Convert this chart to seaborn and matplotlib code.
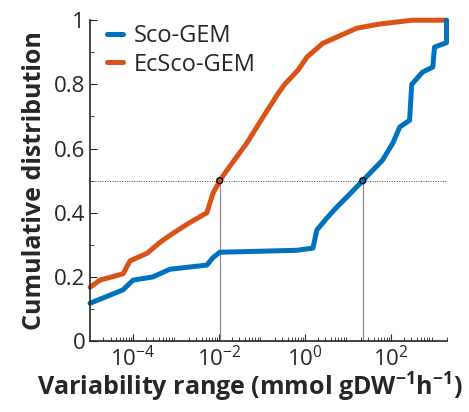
import numpy as np
import pandas as pd
import matplotlib
matplotlib.use("Agg")
import matplotlib.pyplot as plt
import seaborn as sns
from matplotlib.ticker import LogLocator, NullFormatter

# Sco-GEM: log10(variability range), cumulative fraction
sco_log_x = [-5.0, -4.23, -4.0, -3.54, -3.14, -2.28, -2.14, -1.98, -0.19, 0.19,
             0.28, 0.51, 0.74, 0.98, 1.35, 1.81, 2.05, 2.21, 2.44, 2.49,
             2.74, 2.98, 3.02, 3.30, 3.30]
sco_cdf = [0.118, 0.16, 0.19, 0.20, 0.224, 0.237, 0.26, 0.277, 0.283, 0.29,
           0.346, 0.383, 0.417, 0.449, 0.5, 0.564, 0.617, 0.667, 0.688, 0.80,
           0.838, 0.854, 0.916, 0.93, 1.0]

# EcSco-GEM
ecsco_log_x = [-5.0, -4.77, -4.23, -4.07, -3.67, -3.37, -3.07, -2.67, -2.28, -2.14,
               -1.98, -1.81, -1.35, -1.02, -0.63, -0.47, -0.16, 0.05, 0.42, 1.21,
               1.74, 2.51, 3.28]
ecsco_cdf = [0.168, 0.19, 0.21, 0.25, 0.274, 0.308, 0.336, 0.37, 0.40, 0.46,
             0.5, 0.533, 0.617, 0.688, 0.77, 0.80, 0.844, 0.885, 0.928, 0.975,
             0.988, 1.0, 1.0]

# medians (x where cdf = 0.5)
median_labels = ["EcSco-GEM", "Sco-GEM"]
median_x = [10 ** -1.98, 10 ** 1.35]

colors = {"Sco-GEM": "#0072BD", "EcSco-GEM": "#D95319"}

df = pd.concat([
    pd.DataFrame({"x": 10 ** np.array(ecsco_log_x), "y": ecsco_cdf, "model": "EcSco-GEM"}),
    pd.DataFrame({"x": 10 ** np.array(sco_log_x), "y": sco_cdf, "model": "Sco-GEM"}),
], ignore_index=True)

sns.set_style("ticks")
plt.rcParams["font.family"] = ["Open Sans", "DejaVu Sans"]
plt.rcParams["mathtext.default"] = "regular"

fig = plt.figure(figsize=(4.69, 4.12), dpi=100)
ax = fig.add_axes([0.192, 0.172, 0.761, 0.779])
ax.set_xscale("log")

ax.axhline(0.5, color="0.3", lw=0.7, ls=(0, (1, 1.5)), zorder=1)
for mx in median_x:
    ax.plot([mx, mx], [0, 0.5], color="0.55", lw=0.9, zorder=1)

# orange drawn first so the blue end sits on top, as in the original
sns.lineplot(data=df, x="x", y="y", hue="model", palette=colors, sort=False,
             hue_order=["EcSco-GEM", "Sco-GEM"], estimator=None, lw=3.6,
             ax=ax, zorder=3, clip_on=False)

ax.scatter(median_x, [0.5, 0.5], s=18, facecolor="none", edgecolor="black",
           lw=1.0, zorder=5)

ax.set_xlim(1e-5, 10 ** 3.31)
ax.set_ylim(0, 1)
ax.set_xticks([1e-4, 1e-2, 1e0, 1e2])
ax.set_xticklabels([r"10$^{-4}$", r"10$^{-2}$", r"10$^{0}$", r"10$^{2}$"])
ax.xaxis.set_minor_locator(LogLocator(base=10, subs=np.arange(2, 10), numticks=20))
ax.xaxis.set_minor_formatter(NullFormatter())
ax.set_yticks([0, 0.2, 0.4, 0.6, 0.8, 1.0])
ax.set_yticklabels(["0", "0.2", "0.4", "0.6", "0.8", "1"])
ax.set_yticks(np.arange(0.1, 1.0, 0.2), minor=True)
ax.tick_params(direction="in", labelsize=16, length=5, width=0.8, colors="0.15")
ax.tick_params(which="minor", direction="in", length=3, width=0.6)
for s in ["top", "right"]:
    ax.spines[s].set_visible(False)
for s in ["left", "bottom"]:
    ax.spines[s].set_linewidth(1.2)
    ax.spines[s].set_zorder(4)

ax.set_xlabel("Variability range (mmol gDW$^{-1}$h$^{-1}$)", fontsize=18,
              fontweight="bold")
ax.xaxis.set_label_coords(0.448, -0.092)
ax.set_ylabel("Cumulative distribution", fontsize=18, fontweight="bold", labelpad=5)

handles, labels = ax.get_legend_handles_labels()
order = [labels.index("Sco-GEM"), labels.index("EcSco-GEM")]
ax.legend([handles[i] for i in order], [labels[i] for i in order],
          loc="upper left", frameon=False, fontsize=17,
          handlelength=0.7, handletextpad=0.45, borderaxespad=0.3,
          labelspacing=0.2, bbox_to_anchor=(0.0, 1.04))

fig.savefig("out.png", dpi=100)
